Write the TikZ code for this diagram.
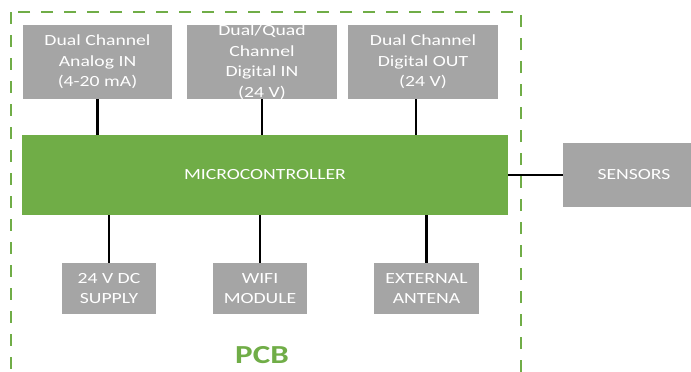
\documentclass[tikz,border=0pt]{standalone}
\usepackage{fontspec}
\setmainfont{Carlito}[FakeStretch=1.27]
\usepackage{xcolor}
\usepackage{tikz}
\usetikzlibrary{calc, positioning}
\definecolor{pcbgreen}{HTML}{70AD47}
\definecolor{boxgray}{HTML}{A5A5A5}
\tikzstyle{block}  = [fill=boxgray, text=white, inner sep=0pt, align=center,
                      font=\fontsize{15.5}{20.5}\selectfont]
\tikzstyle{wire}   = [line width=2.4pt, black]

\begin{document}
\begin{tikzpicture}[x=1pt, y=-1pt]
  \useasboundingbox (0,0) rectangle (691,372);
  \clip (0,0) rectangle (691,372);

  % board outline
  \draw[pcbgreen, line width=2.7pt, dash pattern=on 12pt off 11pt] (11,12) rectangle (521,420);
  \node[text=pcbgreen, font=\fontsize{26}{30}\selectfont\bfseries] (pcb) at (262,355) {PCB};

  % top row
  \node[block, minimum width=149pt, minimum height=74pt] (ain)  at (97.5,62) {Dual Channel\\Analog IN\\(4-20 mA)};
  \node[block, minimum width=150pt, minimum height=74pt] (din)  at (262,62)  {Dual/Quad\\Channel\\Digital IN\\(24 V)};
  \node[block, minimum width=150pt, minimum height=74pt] (dout) at (423,62)  {Dual Channel\\Digital OUT\\(24 V)};

  % controller
  \node[block, fill=pcbgreen, minimum width=486pt, minimum height=80pt] (mcu) at (265,175) {MICROCONTROLLER};

  % bottom row
  \node[block, minimum width=94pt,  minimum height=51pt] (supply)  at (109,288.5)   {24 V DC\\SUPPLY};
  \node[block, minimum width=94pt,  minimum height=51pt] (wifi)    at (260,288.5)   {WIFI\\MODULE};
  \node[block, minimum width=105pt, minimum height=51pt] (antenna) at (426.5,288.5) {EXTERNAL\\ANTENA};

  % outside the board
  \node[block, minimum width=142pt, minimum height=64pt] (sensors) at (634,175) {SENSORS};

  % links
  \draw[wire] (ain.south) -- (ain.south |- mcu.north);
  \draw[wire] (din.south) -- (din.south |- mcu.north);
  \draw[wire] ([xshift=-7pt]dout.south) -- ([xshift=-7pt]dout.south |- mcu.north);
  \draw[wire] (supply.north) -- (supply.north |- mcu.south);
  \draw[wire] (wifi.north) -- (wifi.north |- mcu.south);
  \draw[wire] (antenna.north) -- (antenna.north |- mcu.south);
  \draw[wire, line width=2pt] (mcu.east) -- (sensors.west);
\end{tikzpicture}
\end{document}
